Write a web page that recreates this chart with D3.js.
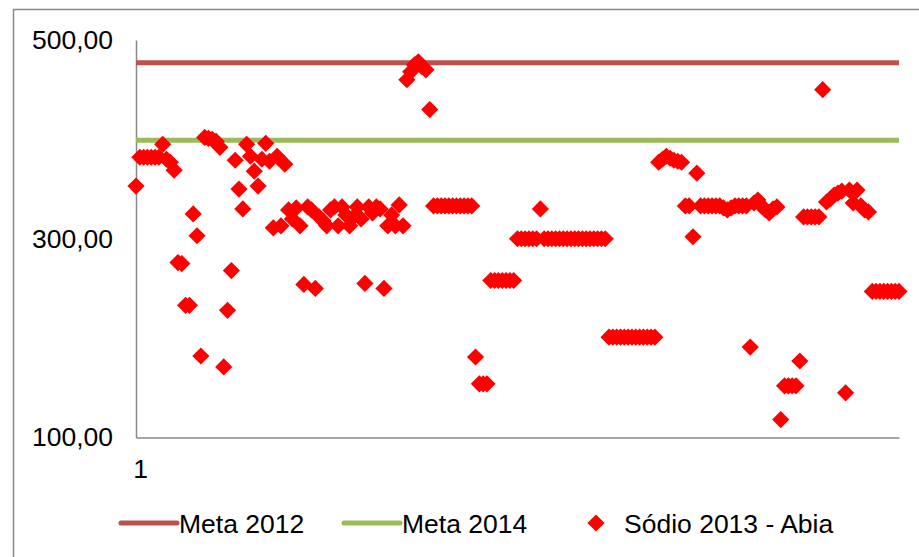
<!DOCTYPE html>
<html>
<head>
<meta charset="utf-8">
<script src="https://cdn.jsdelivr.net/npm/d3@7"></script>
<style>
  html, body { margin: 0; padding: 0; background: #fff; }
  svg { display: block; font-family: "Liberation Sans", Arial, sans-serif; }
</style>
</head>
<body>
<svg id="chart" width="919" height="557"></svg>
<script>
// ---- data ----
const seriesNames = ["Meta 2012", "Meta 2014", "Sódio 2013 - Abia"];
const meta2012 = 477;
const meta2014 = 399;
const yTicks = [100, 300, 500];
const xTickLabels = ["1"];
const sodio2013 = [
  353, 382, 382, 382, 382, 382, 382, 395, 380, 377,
  369, 276, 275, 233, 233, 325, 303, 182, 402, 401,
  400, 398, 392, 171, 228, 268, 379, 350, 330,
  395, 383, 368, 353, 380, 396, 378, 311, 383, 313,
  375, 329, 320, 331, 313, 254, 332, 329, 250, 322,
  318, 313, 329, 332, 313, 332, 324, 313, 322, 332,
  320, 255, 332, 326, 332, 330, 250, 313, 324, 313,
  334, 313,
  460, 468, 475, 478, 473, 470, 430,
  333, 333, 333, 333, 333, 333, 333, 333, 333, 333, 333,
  181, 154, 154, 154,
  258, 258, 258, 258, 258, 258, 258,
  300, 300, 300, 300, 300, 300, 330,
  300, 300, 300, 300, 300, 300, 300, 300, 300, 300, 300, 300, 300, 300, 300, 300, 300,
  201, 201, 201, 201, 201, 201, 201, 201, 201, 201, 201, 201, 201,
  377, 380, 383, 381, 379, 378, 377,
  333, 333, 302, 366,
  333, 333, 333, 333, 333, 333, 331, 329, 331, 333, 333,
  333, 333, 191, 336, 339, 333, 329, 326, 330, 332,
  118, 152, 152, 152, 152, 177,
  322, 322, 322, 322, 322,
  450, 337, 340, 344, 346, 348, 145, 349, 336, 349, 333, 329, 327,
  247, 247, 247, 247, 247, 247, 247, 247
];

// ---- layout ----
const N = sodio2013.length;
const svg = d3.select("#chart");
const C = { red: "#C0504D", green: "#9BBB59", marker: "#FF0000", axis: "#898989" };
const FONT = 26.5;

// outer chart border
svg.append("rect")
  .attr("x", 13.5).attr("y", 9.5).attr("width", 1000).attr("height", 1000)
  .attr("fill", "none").attr("stroke", C.axis).attr("stroke-width", 1.5);

const x = d3.scaleLinear().domain([1, N]).range([136, 899]);
const y = d3.scaleLinear().domain([100, 500]).range([437.5, 40]);

const ptBR = d3.formatLocale({ decimal: ",", thousands: ".", grouping: [3], currency: ["", ""] });
const fmt = ptBR.format(".2f");

// y axis
const gy = svg.append("g").attr("transform", `translate(${x(1)},0)`)
  .call(d3.axisLeft(y).tickValues(yTicks).tickSize(0).tickPadding(23).tickFormat(fmt));
gy.select(".domain").attr("stroke", C.axis).attr("stroke-width", 1.5);
gy.selectAll("text").attr("font-size", FONT).attr("fill", "#000")
  .attr("font-family", "'Liberation Sans', Arial, sans-serif");

// x axis
const gx = svg.append("g").attr("transform", `translate(0,${y(100)})`)
  .call(d3.axisBottom(x).tickValues([1]).tickSize(0).tickPadding(22)
    .tickFormat((d, i) => xTickLabels[i]));
gx.select(".domain").attr("stroke", C.axis).attr("stroke-width", 1.5);
gx.selectAll("text").attr("font-size", FONT).attr("fill", "#000").attr("dx", 4)
  .attr("font-family", "'Liberation Sans', Arial, sans-serif");

// target lines
const line = d3.line().x(d => x(d[0])).y(d => y(d[1]));
[[meta2012, C.red], [meta2014, C.green]].forEach(([v, col]) => {
  svg.append("path")
    .attr("d", line([[1, v], [N, v]]))
    .attr("fill", "none").attr("stroke", col).attr("stroke-width", 5)
    .attr("stroke-linecap", "butt");
});

// diamonds
const H = 8.6;
const diamond = h => `M0,${-h}L${h},0L0,${h}L${-h},0Z`;
svg.append("g").selectAll("path")
  .data(sodio2013)
  .join("path")
  .attr("d", diamond(H))
  .attr("transform", (d, i) => `translate(${x(i + 1)},${y(d)})`)
  .attr("fill", C.marker);

// legend
const lg = svg.append("g").attr("font-size", FONT).attr("fill", "#000");
const legendItems = [
  { type: "line", color: C.red, x0: 121, x1: 177, tx: 179 },
  { type: "line", color: C.green, x0: 344, x1: 400, tx: 402 },
  { type: "marker", color: C.marker, cx: 596, tx: 624 }
];
const LY = 523;
legendItems.forEach((it, i) => {
  if (it.type === "line") {
    lg.append("line").attr("x1", it.x0).attr("x2", it.x1).attr("y1", LY).attr("y2", LY)
      .attr("stroke", it.color).attr("stroke-width", 5).attr("stroke-linecap", "round");
  } else {
    lg.append("path").attr("d", diamond(H)).attr("transform", `translate(${it.cx},${LY})`)
      .attr("fill", it.color);
  }
  lg.append("text").attr("x", it.tx).attr("y", LY).attr("dy", "0.36em").text(seriesNames[i]);
});
</script>
</body>
</html>
